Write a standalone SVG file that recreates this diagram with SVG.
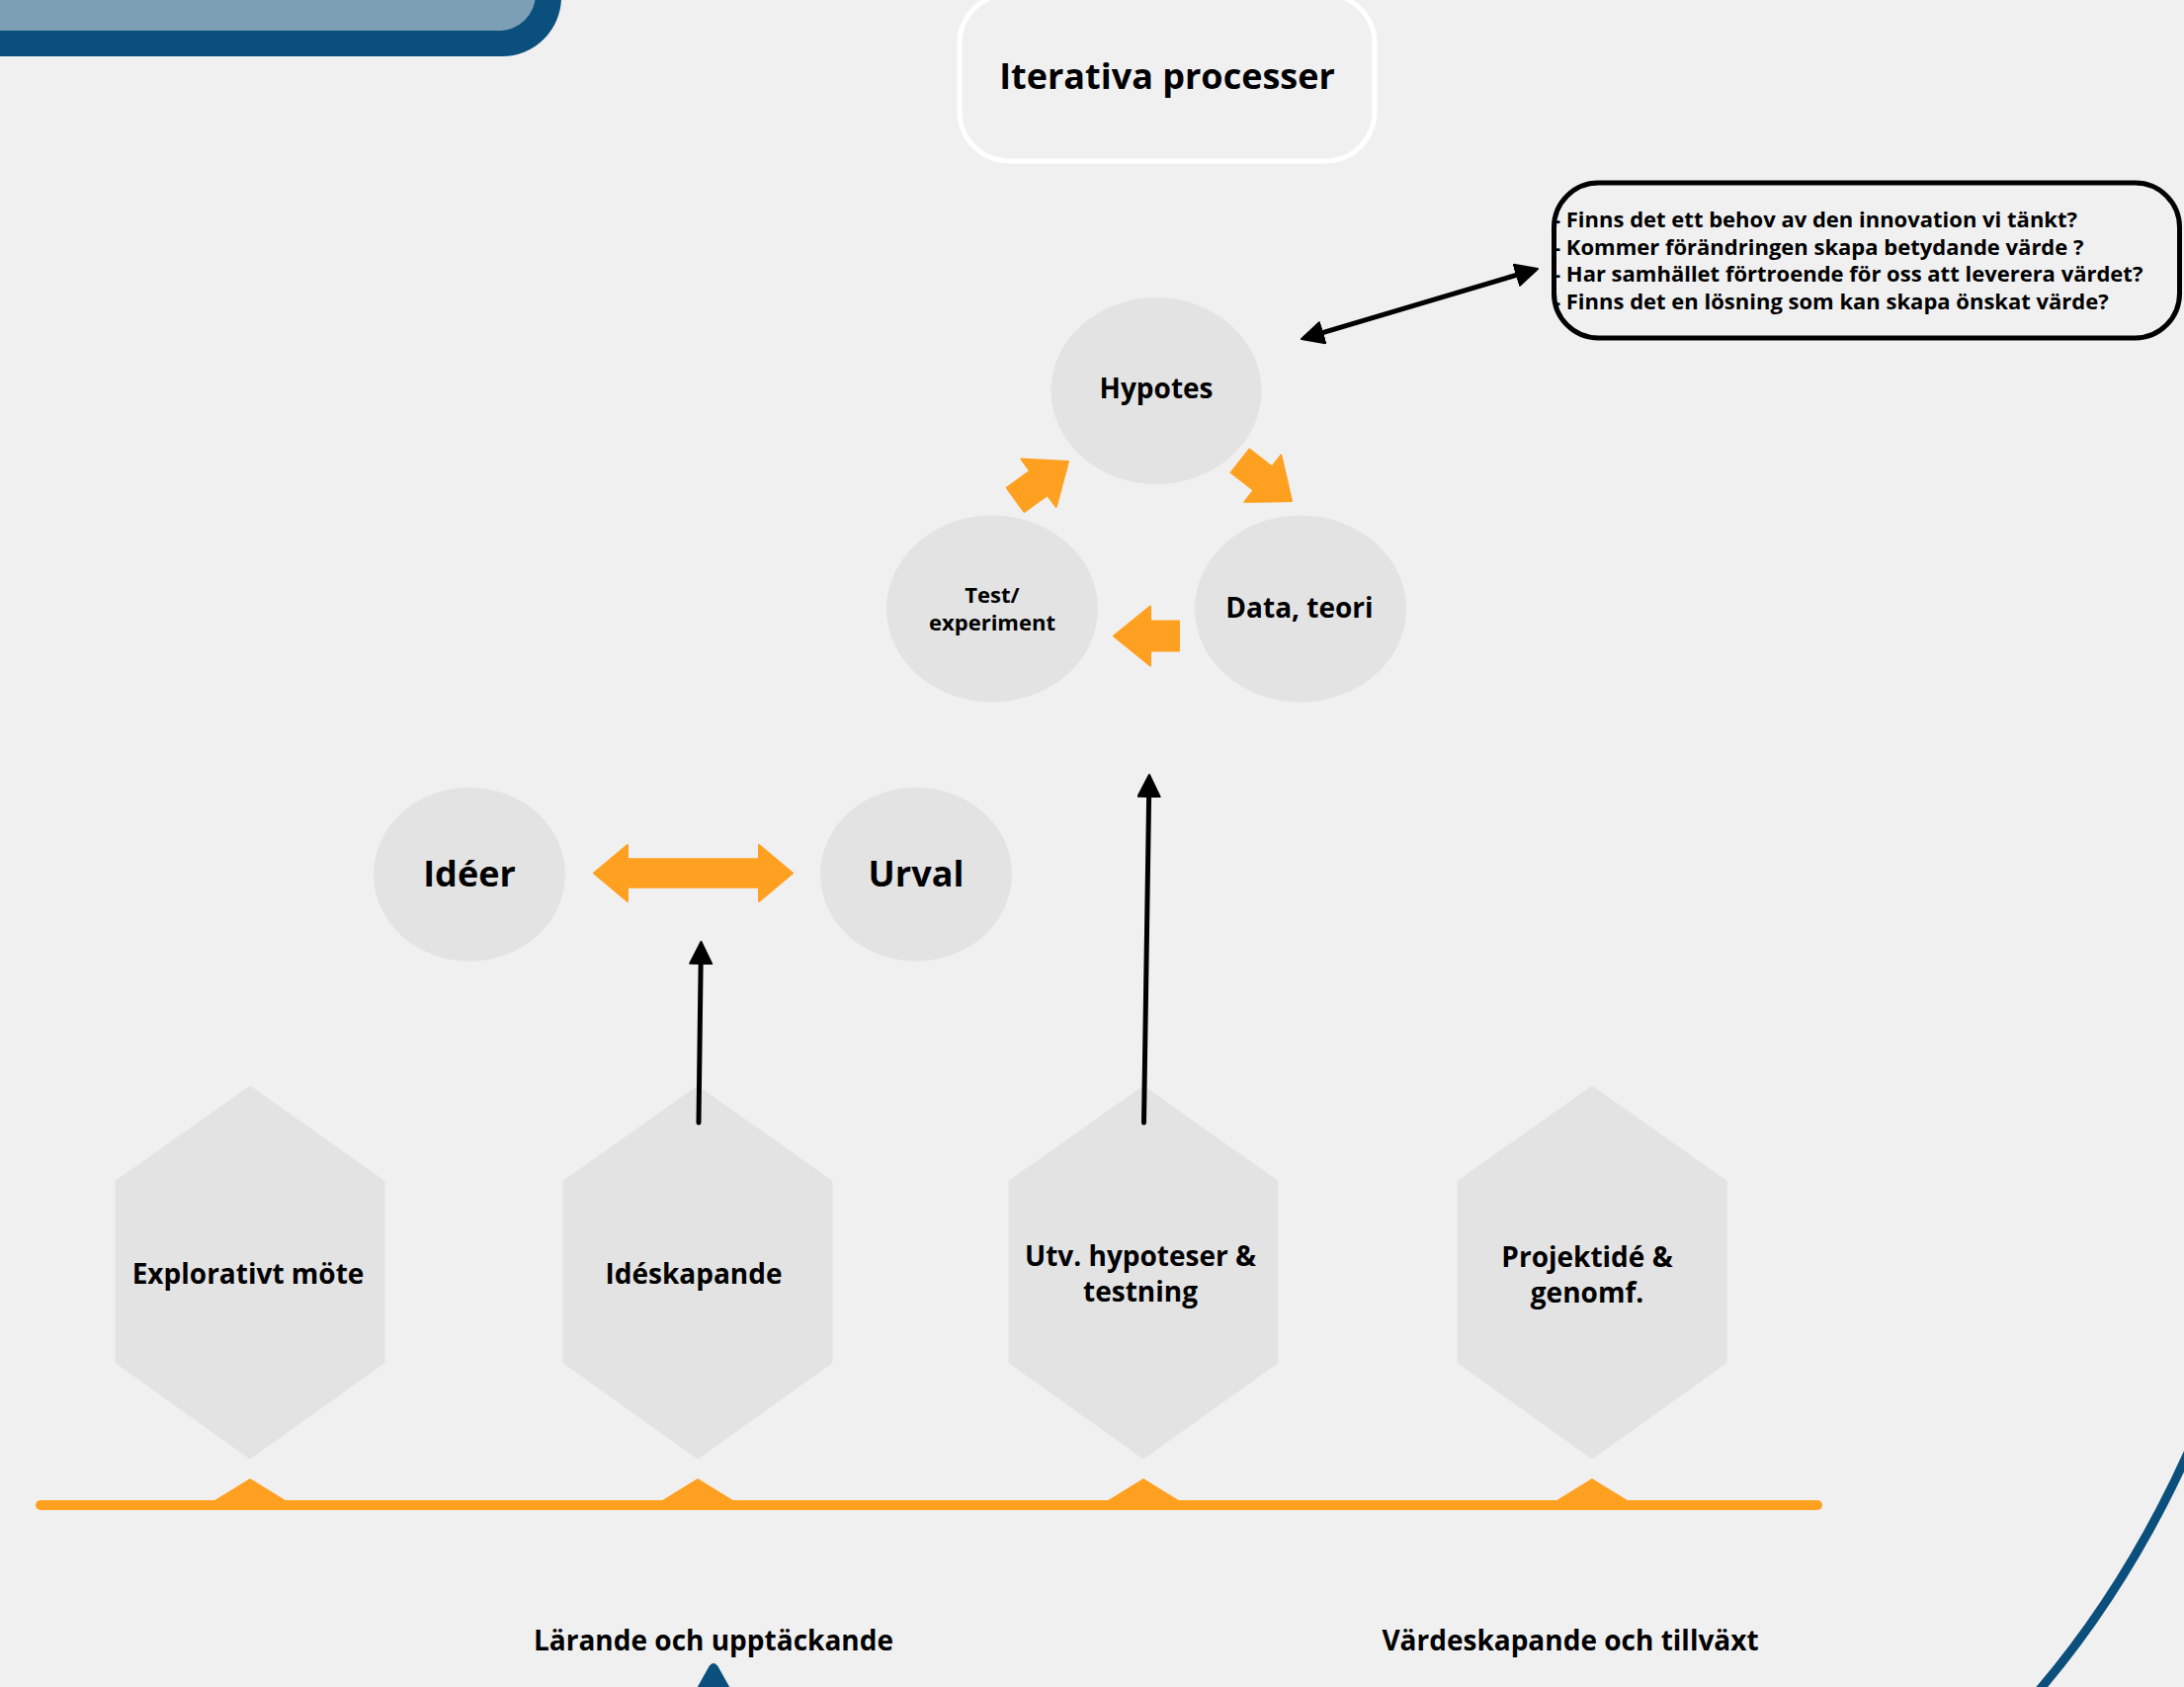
<svg xmlns="http://www.w3.org/2000/svg" width="2210" height="1707" viewBox="0 0 2210 1707">
<defs>
<style>
text{font-family:"Open Sans","Noto Sans","Liberation Sans",sans-serif;font-weight:700;fill:#000}
.c{text-anchor:middle}
.node{fill:#e3e3e3}
.orange{fill:#ffa020;stroke:#ffa020;stroke-width:2;stroke-linejoin:round}
.conn{stroke:#000;stroke-width:5;fill:none;stroke-linecap:round}
</style>
<marker id="ah" markerUnits="userSpaceOnUse" markerWidth="26" markerHeight="28" refX="13" refY="12" orient="auto-start-reverse">
<path d="M1,1 L23,12 L1,23 Z" fill="#000" stroke="#000" stroke-width="2" stroke-linejoin="round"/>
</marker>
<path id="chunky" d="M0,0 L-37,-30 L-37,-15 L-66,-15 L-66,15 L-37,15 L-37,30 Z"/>
</defs>
<rect width="2210" height="1707" fill="#f0f0f0"/>

<g id="banner">
<rect x="-100" y="-100" width="668" height="157" rx="60" fill="#0b4f7c"/>
<rect x="-100" y="-100" width="642" height="131" rx="37" fill="#7c9fb6"/>
</g>

<g id="title">
<rect x="971" y="-6" width="420" height="169" rx="50" fill="none" stroke="#ffffff" stroke-width="5"/>
<text class="c" x="1181" y="90" font-size="36">Iterativa processer</text>
</g>

<g id="questions">
<rect x="1572.5" y="185" width="633" height="157" rx="45" fill="none" stroke="#000" stroke-width="5"/>
<text x="1572" y="230" font-size="22">- Finns det ett behov av den innovation vi tänkt?</text>
<text x="1572" y="257.5" font-size="22">- Kommer förändringen skapa betydande värde ?</text>
<text x="1572" y="285" font-size="22">- Har samhället förtroende för oss att leverera värdet?</text>
<text x="1572" y="312.5" font-size="22">- Finns det en lösning som kan skapa önskat värde?</text>
</g>

<g id="hypotes">
<ellipse class="node" cx="1170" cy="395.5" rx="106.5" ry="94.5"/>
<text class="c" x="1170" y="403" font-size="28">Hypotes</text>
</g>
<g id="test">
<ellipse class="node" cx="1004" cy="616" rx="107" ry="94.5"/>
<text class="c" x="1004" y="610" font-size="22">Test/</text>
<text class="c" x="1004" y="638" font-size="22">experiment</text>
</g>
<g id="data">
<ellipse class="node" cx="1316" cy="616" rx="107" ry="94.5"/>
<text class="c" x="1315" y="625" font-size="28">Data, teori</text>
</g>

<g id="ideer">
<ellipse class="node" cx="475" cy="884.7" rx="97" ry="88"/>
<text class="c" x="475" y="897" font-size="36">Idéer</text>
</g>
<g id="urval">
<ellipse class="node" cx="927" cy="884.7" rx="97" ry="88"/>
<text class="c" x="927" y="897" font-size="36">Urval</text>
</g>

<g id="hex1">
<path class="node" d="M253,1101 L387.5,1196 L387.5,1378 L253,1474 L118.5,1378 L118.5,1196 Z" stroke="#e3e3e3" stroke-width="4" stroke-linejoin="round"/>
<text class="c" x="251" y="1299" font-size="28">Explorativt möte</text>
</g>
<g id="hex2">
<path class="node" d="M706,1101 L840.5,1196 L840.5,1378 L706,1474 L571.5,1378 L571.5,1196 Z" stroke="#e3e3e3" stroke-width="4" stroke-linejoin="round"/>
<text class="c" x="702" y="1299" font-size="28">Idéskapande</text>
</g>
<g id="hex3">
<path class="node" d="M1157,1101 L1291.5,1196 L1291.5,1378 L1157,1474 L1022.5,1378 L1022.5,1196 Z" stroke="#e3e3e3" stroke-width="4" stroke-linejoin="round"/>
<text class="c" x="1154" y="1281" font-size="28">Utv. hypoteser &amp;</text>
<text class="c" x="1154" y="1317" font-size="28">testning</text>
</g>
<g id="hex4">
<path class="node" d="M1611,1101 L1745.5,1196 L1745.5,1378 L1611,1474 L1476.5,1378 L1476.5,1196 Z" stroke="#e3e3e3" stroke-width="4" stroke-linejoin="round"/>
<text class="c" x="1606" y="1282" font-size="28">Projektidé &amp;</text>
<text class="c" x="1606" y="1318" font-size="28">genomf.</text>
</g>

<g id="timeline">
<line x1="41" y1="1523" x2="1839" y2="1523" stroke="#ffa020" stroke-width="10" stroke-linecap="round"/>
<path fill="#ffa020" d="M214,1520 L253,1496 L292,1520 Z M667,1520 L706,1496 L745,1520 Z M1118,1520 L1157,1496 L1196,1520 Z M1572,1520 L1611,1496 L1650,1520 Z"/>
</g>

<g id="labels">
<text class="c" x="722" y="1670" font-size="28">Lärande och upptäckande</text>
<text class="c" x="1589" y="1670" font-size="28">Värdeskapande och tillväxt</text>
</g>

<g id="decor">
<path d="M703,1712 L717,1687 Q722,1679 727,1687 L741,1712 Z" fill="#0b4f7c"/>
<path d="M2214,1470 Q2152,1607 2062,1712" fill="none" stroke="#0b4f7c" stroke-width="9"/>
</g>

<g id="connectors">
<use href="#chunky" class="orange" transform="translate(1081,467) rotate(-36)"/>
<use href="#chunky" class="orange" transform="translate(1307,507) rotate(38)"/>
<use href="#chunky" class="orange" transform="translate(1127,643.5) rotate(180)"/>
<path class="orange" d="M601,883.5 L635,855 L635,869.2 L768,869.2 L768,855 L802,883.5 L768,912 L768,897.8 L635,897.8 L635,912 Z"/>
<line class="conn" x1="1326.6" y1="340.2" x2="1546.4" y2="274.8" marker-start="url(#ah)" marker-end="url(#ah)"/>
<line class="conn" x1="707" y1="1136" x2="709.3" y2="963" marker-end="url(#ah)"/>
<line class="conn" x1="1157.5" y1="1136" x2="1162.8" y2="794" marker-end="url(#ah)"/>
</g>
</svg>
